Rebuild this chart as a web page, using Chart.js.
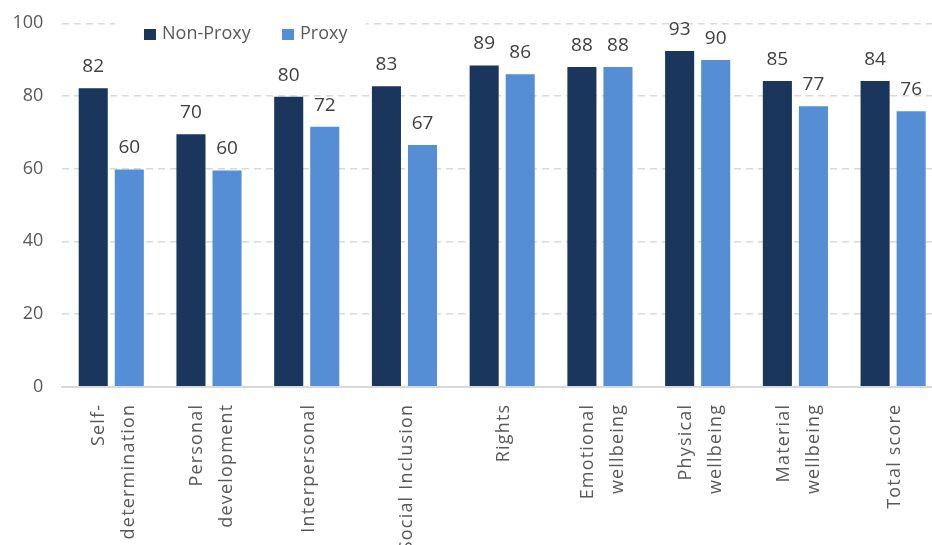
<!DOCTYPE html>
<html>
<head>
<meta charset="utf-8">
<script src="https://cdn.jsdelivr.net/npm/chart.js@4"></script>
<style>
  html, body { margin: 0; padding: 0; background: #fff; overflow: hidden; }
  #wrap { width: 942px; height: 545px; }
</style>
</head>
<body>
<div id="wrap"><canvas id="chart"></canvas></div>
<script>
const categories = [
    ["Self-", "determination"], ["Personal", "development"], ["Interpersonal"],
    ["Social Inclusion"], ["Rights"], ["Emotional", "wellbeing"],
    ["Physical", "wellbeing"], ["Material", "wellbeing"], ["Total score"]
]
const seriesNames = ["Non-Proxy", "Proxy"]
const nonProxy = [82.1, 69.5, 79.8, 82.7, 88.4, 88.0, 92.4, 84.1, 84.1]
const proxy = [59.8, 59.5, 71.5, 66.5, 86.0, 88.0, 89.9, 77.2, 75.8]
const nonProxyLabels = [82, 70, 80, 83, 89, 88, 93, 85, 84]
const proxyLabels = [60, 60, 72, 67, 86, 88, 90, 77, 76]
const yTicks = [0, 20, 40, 60, 80, 100]

const colors = ["#1a365d", "#558ed5"]
const textColor = "#595959"
const font = "'Open Sans', sans-serif"

// value labels above each bar
const valueLabels = {
    id: "valueLabels",
    afterDatasetsDraw(chart) {
        const ctx = chart.ctx
        const lbls = [nonProxyLabels, proxyLabels]
        ctx.save()
        ctx.font = "19px " + font
        ctx.fillStyle = "#404040"
        ctx.textAlign = "center"
        ctx.textBaseline = "alphabetic"
        chart.data.datasets.forEach((ds, i) => {
            chart.getDatasetMeta(i).data.forEach((bar, j) => {
                ctx.fillText(String(lbls[i][j]), bar.x, bar.y - 16)
            })
        })
        ctx.restore()
    }
}

// rotated category labels, lines centred on the tick like the original
const catLabels = {
    id: "catLabels",
    afterDraw(chart) {
        const ctx = chart.ctx
        const xs = chart.scales.x
        const top = chart.chartArea.bottom + 17
        ctx.save()
        ctx.font = "18px " + font
        ctx.letterSpacing = "1.2px"
        ctx.fillStyle = textColor
        ctx.textAlign = "right"
        ctx.textBaseline = "middle"
        categories.forEach((lines, i) => {
            const px = xs.getPixelForTick(i)
            lines.forEach((line, k) => {
                let off = lines.length === 1 ? 2 : (k === 0 ? -12 : 18)
                ctx.save()
                ctx.translate(px + off, top)
                ctx.rotate(-Math.PI / 2)
                ctx.fillText(line, 0, 0)
                ctx.restore()
            })
        })
        ctx.restore()
    }
}

// legend sitting inside the plot area
const insideLegend = {
    id: "insideLegend",
    afterDraw(chart) {
        const ctx = chart.ctx
        ctx.save()
        ctx.fillStyle = "#fff"
        ctx.fillRect(115, 15, 251, 32)
        ctx.font = "18px " + font
        ctx.textBaseline = "middle"
        ctx.textAlign = "left"
        const xs = [144, 282]
        seriesNames.forEach((name, i) => {
            ctx.fillStyle = colors[i]
            ctx.fillRect(xs[i], 29, 12, 11)
            ctx.fillStyle = textColor
            ctx.fillText(name, xs[i] + 18, 34)
        })
        ctx.restore()
    }
}

new Chart(document.getElementById("chart"), {
    type: "bar",
    plugins: [valueLabels, catLabels, insideLegend],
    data: {
        labels: categories,
        datasets: [
            { label: seriesNames[0], data: nonProxy, backgroundColor: colors[0] },
            { label: seriesNames[1], data: proxy, backgroundColor: colors[1] }
        ]
    },
    options: {
        responsive: true,
        maintainAspectRatio: false,
        animation: false,
        layout: { padding: { top: 23.3, right: 0, left: 0, bottom: 0 } },
        datasets: { bar: { categoryPercentage: 0.738, barPercentage: 0.806 } },
        plugins: { legend: { display: false }, tooltip: { enabled: false } },
        scales: {
            x: {
                grid: { display: false },
                border: { display: true, color: "#d9d9d9", width: 2 },
                ticks: { display: false },
                afterFit(scale) { scale.height = 158.3; scale.paddingLeft = 0; scale.paddingRight = 0 }
            },
            y: {
                min: 0,
                max: 100,
                afterBuildTicks(scale) { scale.ticks = yTicks.map(v => ({ value: v })) },
                grid: { color: "#d9d9d9", lineWidth: 1.5, drawTicks: false },
                border: { display: false, dash: [7, 5] },
                ticks: { color: textColor, font: { family: font, size: 18 }, padding: 19 },
                afterFit(scale) { scale.width = 62.4; scale.paddingTop = 0; scale.paddingBottom = 0 }
            }
        }
    }
})
</script>
</body>
</html>
